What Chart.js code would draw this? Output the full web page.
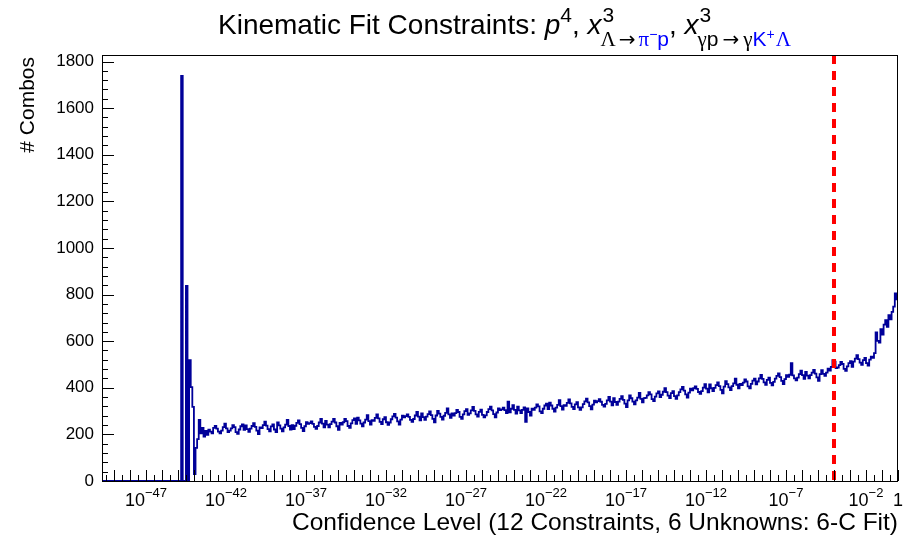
<!DOCTYPE html>
<html>
<head>
<meta charset="utf-8">
<script src="https://cdn.jsdelivr.net/npm/chart.js@4.4.1/dist/chart.umd.min.js"></script>
<style>
  html, body { margin: 0; padding: 0; background: #fff; }
  #wrap { width: 906px; height: 536px; }
</style>
</head>
<body>
<div id="wrap"><canvas id="chart" width="906" height="536"></canvas></div>
<script>
// x axis range (confidence level, log scale)
const xMin = 1.8e-50;
const xMax = 1;
const yMax = 1828;

// histogram bins: 0.1 decade wide, first bin starts at 10^-44.8
const binStartExp = -44.8;
const binWidthExp = 0.1;

// spike region + flat plateau (10^-44.8 .. 10^-24.8)
const countsLow = [
  1738,0,0,837,0,519,403,318,30,142,
  180,262,205,228,190,215,198,220,212,205,
  228,236,225,212,204,216,231,246,226,210,
  216,226,240,231,210,202,221,235,243,219,
  239,223,211,225,236,248,232,216,201,230,
  227,240,255,238,223,213,234,243,221,210,
  251,239,225,213,230,242,262,236,221,240,
  223,237,249,260,244,228,214,235,252,245,
  248,256,245,232,224,236,251,266,246,230,
  258,242,230,244,255,267,251,235,220,249,
  242,252,266,257,236,228,247,261,269,245,
  272,260,246,234,251,263,283,257,242,261,
  258,271,286,269,254,244,265,274,252,241,
  251,265,277,288,272,256,242,263,280,273,
  278,286,275,262,254,266,281,296,276,260,
  290,274,262,276,287,299,283,267,252,281,
  301,289,275,263,280,292,312,286,271,290,
  281,291,305,296,275,267,286,300,308,284,
  290,303,318,301,286,276,297,306,284,273,
  282,296,308,319,303,287,273,294,311,304
];
// slow rise (10^-24.8 .. 10^-4.8)
const countsMid = [
  307,315,304,291,341,295,310,325,305,289,
  319,303,291,305,316,254,312,296,281,310,
  305,315,329,320,299,291,310,324,332,308,
  336,324,310,298,315,327,347,321,306,325,
  322,335,350,333,318,308,329,338,316,305,
  316,330,342,353,337,321,307,328,345,338,
  343,351,340,327,319,331,346,361,341,325,
  355,339,327,341,352,364,348,332,317,346,
  367,355,341,329,346,358,378,352,337,356,
  357,367,381,372,351,343,362,376,384,360,
  370,383,398,381,366,356,377,386,364,353,
  367,381,393,404,388,372,358,379,396,389,
  398,406,395,382,374,386,401,416,396,380,
  414,398,386,400,411,423,407,391,376,405,
  428,416,402,390,407,419,439,413,398,417,
  412,422,436,427,406,398,417,431,439,415,
  427,440,455,438,423,413,434,443,421,410,
  425,439,451,462,446,430,416,437,454,447,
  456,506,453,440,432,444,459,474,454,438,
  468,452,440,454,465,477,461,445,430,459
];
// high-CL end (10^-4.8 .. 1)
const countsHigh = [
  476,460,451,465,482,474,490,519,512,484,
  487,497,511,502,481,473,492,506,514,490,
  512,525,540,523,508,498,519,528,506,495,
  521,534,528,549,638,601,594,652,628,671,
  690,662,712,694,726,748,805,779
];

const cutValue = 1e-4;   // red dashed cut line
const yTickValues = [0, 200, 400, 600, 800, 1000, 1200, 1400, 1600, 1800];
const xLabelExps = [-47, -42, -37, -32, -27, -22, -17, -12, -7, -2, 0];

const titleText = 'Kinematic Fit Constraints: ';
const xTitle = 'Confidence Level (12 Constraints, 6 Unknowns: 6-C Fit)';
const yTitle = '# Combos';

const counts = countsLow.concat(countsMid, countsHigh);
const histPoints = [{ x: xMin, y: 0 }];
counts.forEach((c, i) => {
  histPoints.push({ x: Math.pow(10, binStartExp + i * binWidthExp), y: c });
});
histPoints.push({ x: xMax, y: counts[counts.length - 1] });

const cutPoints = [{ x: cutValue, y: yMax }, { x: cutValue, y: 0 }];

const SANS = '"Liberation Sans", Arial, Helvetica, sans-serif';
const SERIF = '"Liberation Serif", "DejaVu Serif", serif';

// draw a list of text runs left to right, returns the end x
function drawRuns(ctx, x, runs) {
  runs.forEach(r => {
    ctx.font = r.font;
    ctx.fillStyle = r.color || '#000';
    const pad = r.pad || 0;
    ctx.fillText(r.t, x + pad, r.y);
    x += ctx.measureText(r.t).width + 2 * pad;
  });
  return x;
}

function runsWidth(ctx, runs) {
  let w = 0;
  runs.forEach(r => { ctx.font = r.font; w += ctx.measureText(r.t).width + 2 * (r.pad || 0); });
  return w;
}

const rootStyle = {
  id: 'rootStyle',
  afterDraw(chart) {
    const ctx = chart.ctx;
    const a = chart.chartArea;
    const xs = chart.scales.x;
    const ys = chart.scales.y;
    ctx.save();

    // frame
    ctx.strokeStyle = '#000';
    ctx.lineWidth = 1;
    ctx.strokeRect(a.left + 0.5, a.top + 0.5, a.right - a.left - 1, a.bottom - a.top);

    // y ticks (inside)
    ctx.beginPath();
    for (let v = 0; v <= yMax; v += 40) {
      const py = Math.round(ys.getPixelForValue(v)) + 0.5;
      const len = v % 200 === 0 ? 12 : 6;
      ctx.moveTo(a.left, py);
      ctx.lineTo(a.left + len, py);
    }
    // x ticks: decades and half decades
    for (let e = -49.5; e <= 0; e += 0.5) {
      const px = Math.round(xs.getPixelForValue(Math.pow(10, e))) + 0.5;
      if (px < a.left || px > a.right + 1) continue;
      const len = Number.isInteger(e) ? 11 : 6;
      ctx.moveTo(px, a.bottom);
      ctx.lineTo(px, a.bottom - len);
    }
    ctx.stroke();

    ctx.fillStyle = '#000';
    ctx.font = '17px ' + SANS;
    ctx.textAlign = 'right';
    ctx.textBaseline = 'middle';
    yTickValues.forEach(v => {
      ctx.fillText(String(v), 94, ys.getPixelForValue(v));
    });

    // x labels 10^n
    ctx.textAlign = 'left';
    ctx.textBaseline = 'alphabetic';
    xLabelExps.forEach(e => {
      const px = xs.getPixelForValue(Math.pow(10, e));
      let runs;
      if (e === 0) {
        runs = [{ t: '1', font: '18px ' + SANS, y: 506 }];
      } else {
        runs = [
          { t: '10', font: '18px ' + SANS, y: 506 },
          { t: '\u2212' + Math.abs(e), font: '13px ' + SANS, y: 497 }
        ];
      }
      drawRuns(ctx, px - runsWidth(ctx, runs) / 2, runs);
    });

    // axis titles
    ctx.font = '24.5px ' + SANS;
    ctx.textAlign = 'right';
    ctx.fillText(xTitle, a.right, 530);

    ctx.save();
    ctx.translate(34, a.top + 2);
    ctx.rotate(-Math.PI / 2);
    ctx.font = '21px ' + SANS;
    ctx.textAlign = 'right';
    ctx.fillText(yTitle, 0, 0);
    ctx.restore();

    // title with sub/superscripts
    ctx.textAlign = 'left';
    const base = 34, sup = 22, sub = 46;
    const big = '28px ' + SANS, ital = 'italic 28px ' + SANS;
    const small = '21px ' + SANS, smallSerif = '21px ' + SERIF, tiny = '14px ' + SANS;
    const arrow = '20px "DejaVu Sans", sans-serif';
    const blue = '#0000ff';
    let x = 218;
    x = drawRuns(ctx, x, [
      { t: titleText, font: big, y: base },
      { t: 'p', font: ital, y: base },
      { t: '4', font: small, y: sup },
      { t: ', ', font: big, y: base },
      { t: 'x', font: ital, y: base }
    ]);
    let x0 = x;
    drawRuns(ctx, x0 + 1, [{ t: '3', font: small, y: sup }]);
    x = drawRuns(ctx, x0 - 1, [
      { t: '\u039B', font: smallSerif, y: sub },
      { t: '\u2192', font: arrow, y: sub, pad: 3 },
      { t: '\u03C0', font: smallSerif, y: sub, color: blue },
      { t: '\u2212', font: tiny, y: sub - 7, color: blue },
      { t: 'p', font: small, y: sub, color: blue }
    ]);
    x = drawRuns(ctx, x, [
      { t: ', ', font: big, y: base },
      { t: 'x', font: ital, y: base }
    ]);
    x0 = x;
    drawRuns(ctx, x0 + 1, [{ t: '3', font: small, y: sup }]);
    drawRuns(ctx, x0 - 1, [
      { t: '\u03B3', font: smallSerif, y: sub },
      { t: 'p', font: small, y: sub },
      { t: '\u2192', font: arrow, y: sub, pad: 4 },
      { t: '\u03B3', font: smallSerif, y: sub },
      { t: 'K', font: small, y: sub, color: blue },
      { t: '+', font: tiny, y: sub - 7, color: blue },
      { t: '\u039B', font: smallSerif, y: sub, color: blue, pad: 1 }
    ]);

    ctx.restore();
  }
};

new Chart(document.getElementById('chart'), {
  type: 'line',
  data: {
    datasets: [
      {
        data: cutPoints,
        borderColor: '#ff0000',
        borderWidth: 4,
        borderDash: [9, 7],
        pointRadius: 0,
        order: 0
      },
      {
        data: histPoints,
        stepped: true,
        borderColor: '#000099',
        borderWidth: 1.8,
        pointRadius: 0,
        order: 1
      }
    ]
  },
  options: {
    responsive: false,
    animation: false,
    devicePixelRatio: 1,
    layout: { padding: { top: 55, right: 8, left: 0, bottom: 0 } },
    plugins: { legend: { display: false }, tooltip: { enabled: false } },
    scales: {
      x: {
        type: 'logarithmic',
        min: xMin,
        max: xMax,
        ticks: { display: false },
        grid: { display: false },
        border: { display: false },
        afterFit(s) { s.height = 55; }
      },
      y: {
        min: 0,
        max: yMax,
        ticks: { display: false },
        grid: { display: false },
        border: { display: false },
        afterFit(s) { s.width = 102; }
      }
    }
  },
  plugins: [rootStyle]
});
</script>
</body>
</html>
